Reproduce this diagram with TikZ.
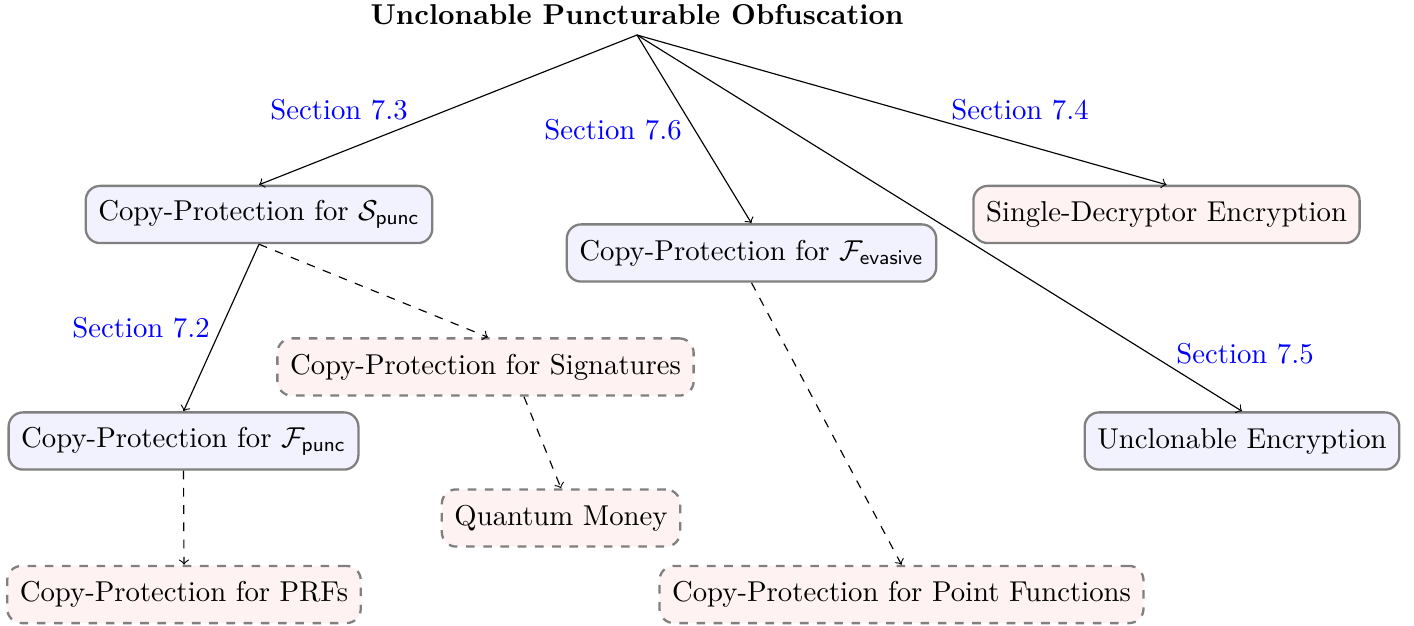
\documentclass[tikz,border=0pt]{standalone}
\usetikzlibrary{calc}
\begin{document}
\begin{tikzpicture}[x=0.01224cm,y=-0.01224cm,
  bluebox/.style={draw=gray,thick,rounded corners=5pt,fill=blue!5,minimum height=0.7cm,inner xsep=4.4pt},
  redbox/.style={draw=gray,thick,rounded corners=5pt,fill=red!5,minimum height=0.7cm,inner xsep=4.4pt},
  dashbox/.style={redbox,dashed},
  seclabel/.style={text=blue},
  link/.style={->},
  dlink/.style={->,dashed}]
\useasboundingbox (0,0) rectangle (1414,626);
\node[font=\bfseries,anchor=south] (title) at (637,35) {Unclonable Puncturable Obfuscation};
\node[bluebox] (spunc) at (259,214.5) {Copy-Protection for $\mathcal{S}_{\mathsf{punc}}$};
\node[bluebox] (fev) at (751.5,253) {Copy-Protection for $\mathcal{F}_{\mathsf{evasive}}$};
\node[redbox] (sde) at (1166.5,214.5) {Single-Decryptor Encryption};
\node[bluebox] (ue) at (1242,441) {Unclonable Encryption};
\node[bluebox] (fpunc) at (183.5,441) {Copy-Protection for $\mathcal{F}_{\mathsf{punc}}$};
\node[dashbox] (sig) at (485.5,367) {Copy-Protection for Signatures};
\node[dashbox] (qm) at (561,518) {Quantum Money};
\node[dashbox] (prf) at (184,594.5) {Copy-Protection for PRFs};
\node[dashbox] (pf) at (901.5,594.5) {Copy-Protection for Point Functions};
\node[seclabel] (s73) at (339,110) {Section 7.3};
\node[seclabel] (s76) at (613,130) {Section 7.6};
\node[seclabel] (s74) at (1020,110) {Section 7.4};
\node[seclabel] (s72) at (141,328) {Section 7.2};
\node[seclabel] (s75) at (1245,354) {Section 7.5};
\draw[link] (title.south) -- (spunc.north);
\draw[link] (title.south) -- (fev.north);
\draw[link] (title.south) -- (sde.north);
\draw[link] (title.south) -- (ue.north);
\draw[link] (spunc.south) -- (fpunc.north);
\draw[dlink] (spunc.south) -- ($(sig.north)+(2.5,0)$);
\draw[dlink] (fpunc.south) -- (prf.north);
\draw[dlink] ($(sig.south)+(38.5,0)$) -- (qm.north);
\draw[dlink] (fev.south) -- (pf.north);
\end{tikzpicture}
\end{document}
